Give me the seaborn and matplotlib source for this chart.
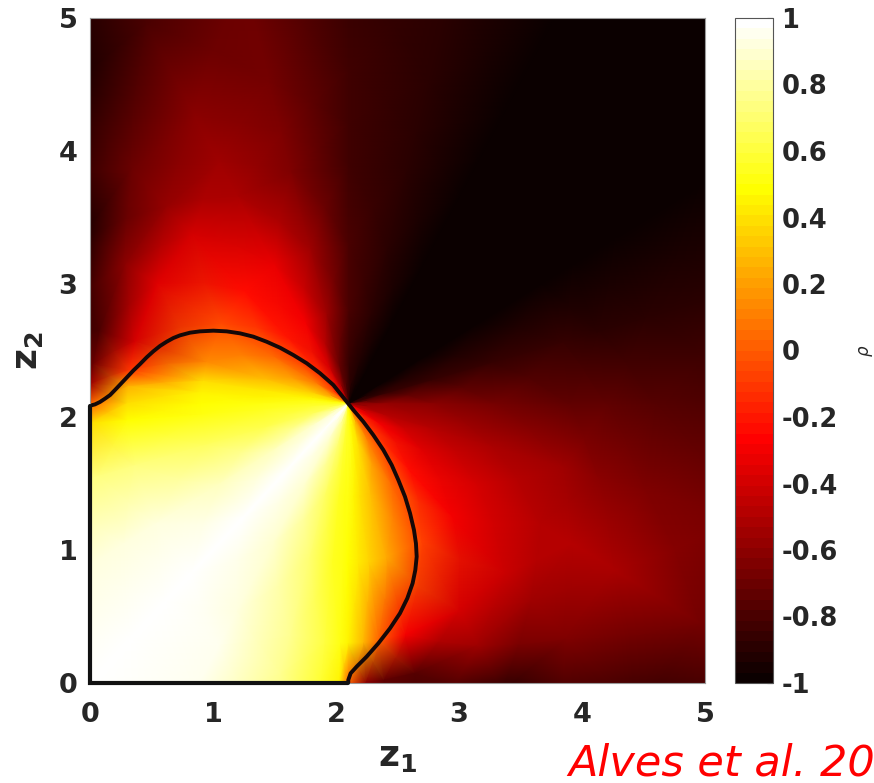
import numpy as np
import matplotlib
matplotlib.use("Agg")
import matplotlib.pyplot as plt
import seaborn as sns

# ---------------- data ----------------
# rho is sampled on a polar grid centred on the fan point (z1, z2) = (2.1, 2.1)
centre_z1 = 2.1
centre_z2 = 2.1
radii = [0.01, 0.3, 0.7, 1.2, 1.8, 2.1, 2.5, 3.3, 4.3]
angles_deg = [0, 15, 30, 45, 60, 75, 90, 105, 120, 135, 150, 165, 172, 176, 180,
              184, 195, 210, 225, 240, 255, 264, 268, 270, 274, 278, 285, 300,
              315, 330, 345, 360]

# rho along the radii, one list per direction (degrees)
rho_deg000 = [-0.60, -0.58, -0.60, -0.66, -0.72, -0.74, -0.77, -0.80, -0.82]
rho_deg015 = [-0.85, -0.85, -0.86, -0.86, -0.87, -0.88, -0.89, -0.90, -0.90]
rho_deg030 = [-0.98, -0.99, -1.00, -1.00, -1.00, -1.00, -0.99, -0.98, -0.98]
rho_deg045 = [-1.00, -1.00, -1.00, -1.00, -1.00, -1.00, -1.00, -1.00, -1.00]
rho_deg060 = [-1.00, -1.00, -1.00, -1.00, -1.00, -1.00, -0.99, -0.99, -0.99]
rho_deg075 = [-0.95, -0.92, -0.90, -0.90, -0.90, -0.90, -0.90, -0.90, -0.90]
rho_deg090 = [-0.85, -0.85, -0.80, -0.80, -0.82, -0.83, -0.84, -0.85, -0.85]
rho_deg105 = [-0.72, -0.70, -0.55, -0.55, -0.63, -0.65, -0.67, -0.70, -0.70]
rho_deg120 = [-0.45, -0.40, -0.30, -0.32, -0.52, -0.56, -0.60, -0.80, -1.00]
rho_deg135 = [-0.25, -0.15, -0.20, -0.22, -0.38, -0.58, -0.70, -1.00, -1.00]
rho_deg150 = [0.05, 0.10, 0.05, -0.05, -0.35, -0.62, -0.95, -1.00, -1.00]
rho_deg165 = [0.35, 0.35, 0.30, 0.15, -0.40, -0.80, -0.95, -1.00, -1.00]
rho_deg172 = [0.45, 0.45, 0.42, 0.38, -0.10, -0.70, -0.90, -0.95, -0.95]
rho_deg176 = [0.50, 0.50, 0.45, 0.45, 0.25, -0.55, -0.85, -0.90, -0.90]
rho_deg180 = [0.55, 0.55, 0.50, 0.48, 0.40, 0.00, -0.60, -0.80, -0.80]
rho_deg184 = [0.58, 0.58, 0.56, 0.53, 0.47, 0.38, 0.40, 0.45, 0.45]
rho_deg195 = [0.70, 0.68, 0.63, 0.68, 0.72, 0.72, 0.75, 0.75, 0.75]
rho_deg210 = [0.90, 0.90, 0.85, 0.85, 0.92, 0.92, 0.92, 0.92, 0.92]
rho_deg225 = [1.00, 1.00, 1.00, 1.00, 1.00, 1.00, 1.00, 1.00, 1.00]
rho_deg240 = [0.90, 0.90, 0.88, 0.90, 0.92, 0.95, 0.95, 0.95, 0.95]
rho_deg255 = [0.70, 0.70, 0.68, 0.70, 0.75, 0.75, 0.75, 0.75, 0.75]
rho_deg264 = [0.60, 0.58, 0.55, 0.55, 0.60, 0.58, 0.60, 0.60, 0.60]
rho_deg268 = [0.56, 0.56, 0.52, 0.50, 0.50, 0.45, 0.30, 0.00, 0.00]
rho_deg270 = [0.55, 0.55, 0.50, 0.48, 0.45, 0.00, -0.60, -0.80, -0.80]
rho_deg274 = [0.50, 0.50, 0.45, 0.42, 0.25, -0.60, -0.85, -0.90, -0.90]
rho_deg278 = [0.48, 0.45, 0.40, 0.35, 0.00, -0.75, -0.85, -0.90, -0.90]
rho_deg285 = [0.42, 0.40, 0.30, 0.22, -0.30, -0.78, -0.85, -0.90, -0.90]
rho_deg300 = [0.15, 0.10, 0.05, -0.08, -0.38, -0.55, -0.90, -0.95, -0.95]
rho_deg315 = [-0.05, -0.10, -0.25, -0.30, -0.42, -0.55, -0.65, -0.90, -0.95]
rho_deg330 = [-0.30, -0.30, -0.35, -0.38, -0.48, -0.50, -0.52, -0.67, -0.90]
rho_deg345 = [-0.50, -0.50, -0.50, -0.52, -0.56, -0.60, -0.63, -0.68, -0.70]
rho_deg360 = rho_deg000

# black boundary curve
curve_z1 = [0.000, 0.041, 0.081, 0.122, 0.163, 0.203, 0.244, 0.298, 0.352, 0.407,
            0.461, 0.515, 0.569, 0.623, 0.678, 0.732, 0.813, 0.894, 1.003, 1.111,
            1.220, 1.328, 1.436, 1.545, 1.653, 1.762, 1.870, 1.978, 2.100, 2.141,
            2.222, 2.303, 2.385, 2.453, 2.507, 2.561, 2.602, 2.634, 2.650, 2.656,
            2.645, 2.623, 2.580, 2.520, 2.439, 2.344, 2.249, 2.168, 2.119, 2.100, 2.100]
curve_z2 = [2.085, 2.095, 2.113, 2.138, 2.165, 2.203, 2.243, 2.296, 2.349, 2.398,
            2.449, 2.494, 2.534, 2.566, 2.594, 2.614, 2.634, 2.644, 2.649, 2.644,
            2.629, 2.604, 2.566, 2.521, 2.466, 2.404, 2.329, 2.241, 2.100, 2.053,
            1.965, 1.865, 1.752, 1.639, 1.526, 1.401, 1.276, 1.150, 1.050, 0.950,
            0.850, 0.750, 0.637, 0.524, 0.411, 0.298, 0.198, 0.123, 0.073, 0.023, 0.000]
edge_z1 = [0.0, 0.0, 2.10]
edge_z2 = [2.085, 0.0, 0.0]

axis_ticks = [0, 1, 2, 3, 4, 5]
axis_tick_labels = ["0", "1", "2", "3", "4", "5"]
cb_ticks = [1, 0.8, 0.6, 0.4, 0.2, 0, -0.2, -0.4, -0.6, -0.8, -1]
cb_labels = ["1", "0.8", "0.6", "0.4", "0.2", "0", "-0.2", "-0.4", "-0.6", "-0.8", "-1"]

# ---------------- figure ----------------
sns.set_theme(style="white")
plt.rcParams["font.family"] = ["DejaVu Sans"]
plt.rcParams["mathtext.fontset"] = "dejavusans"

W, H = 874, 783
fig = plt.figure(figsize=(W / 100, H / 100), dpi=100)
ax = fig.add_axes([90 / W, 1 - 683 / H, 615 / W, 665 / H])
cax = fig.add_axes([735 / W, 1 - 683 / H, 38 / W, 665 / H])

rho = np.array([rho_deg000, rho_deg015, rho_deg030, rho_deg045, rho_deg060,
                rho_deg075, rho_deg090, rho_deg105, rho_deg120, rho_deg135,
                rho_deg150, rho_deg165, rho_deg172, rho_deg176, rho_deg180,
                rho_deg184, rho_deg195, rho_deg210, rho_deg225, rho_deg240,
                rho_deg255, rho_deg264, rho_deg268, rho_deg270, rho_deg274,
                rho_deg278, rho_deg285, rho_deg300, rho_deg315, rho_deg330,
                rho_deg345, rho_deg360])
R, T = np.meshgrid(radii, np.deg2rad(angles_deg))
X = centre_z1 + R * np.cos(T)
Y = centre_z2 + R * np.sin(T)
cmap = plt.get_cmap("hot", 64)
mesh = ax.pcolormesh(X, Y, rho, shading="gouraud", cmap=cmap, vmin=-1, vmax=1,
                     rasterized=True)

sns.lineplot(x=curve_z1, y=curve_z2, sort=False, estimator=None, color="#140808",
             lw=2.8, ax=ax)
for ln in ax.lines:
    ln.set_solid_joinstyle("round")
    ln.set_solid_capstyle("round")
ax.plot(edge_z1, edge_z2, color="#111111", lw=3.0, clip_on=False,
        solid_joinstyle="miter", zorder=5)

ax.set_xlim(0, 5)
ax.set_ylim(0, 5)
ax.set_xticks(axis_ticks)
ax.set_xticklabels(axis_tick_labels)
ax.set_yticks(axis_ticks)
ax.set_yticklabels(axis_tick_labels)
ax.tick_params(axis="x", length=0, pad=14, labelsize=19.5, labelcolor="#262626")
ax.tick_params(axis="y", length=0, pad=9, labelsize=19.5, labelcolor="#262626")
for lab in ax.get_xticklabels() + ax.get_yticklabels():
    lab.set_fontweight("bold")
for sp in ax.spines.values():
    sp.set_color("#9a9a9a")
    sp.set_linewidth(0.8)

ax.set_xlabel(r"$\mathbf{z_1}$", fontsize=26, color="#262626", labelpad=8)
ax.set_ylabel(r"$\mathbf{z_2}$", fontsize=26, color="#262626", labelpad=10)

cbar = fig.colorbar(mesh, cax=cax, ticks=cb_ticks)
cax.set_yticklabels(cb_labels)
cax.tick_params(direction="in", length=4, width=0.8, color="#262626", pad=6,
                labelsize=18.5, labelcolor="#262626")
for lab in cax.get_yticklabels():
    lab.set_fontweight("bold")
cbar.outline.set_edgecolor("#555555")
cbar.outline.set_linewidth(0.8)
cax.set_ylabel(r"$\rho$", fontsize=12, color="#262626", rotation=90, labelpad=14)

fig.text(568 / W, 1 - 775 / H, "Alves et al. 20", color="red", style="italic",
         fontsize=31, ha="left", va="baseline")

fig.savefig("out.png", dpi=100)
